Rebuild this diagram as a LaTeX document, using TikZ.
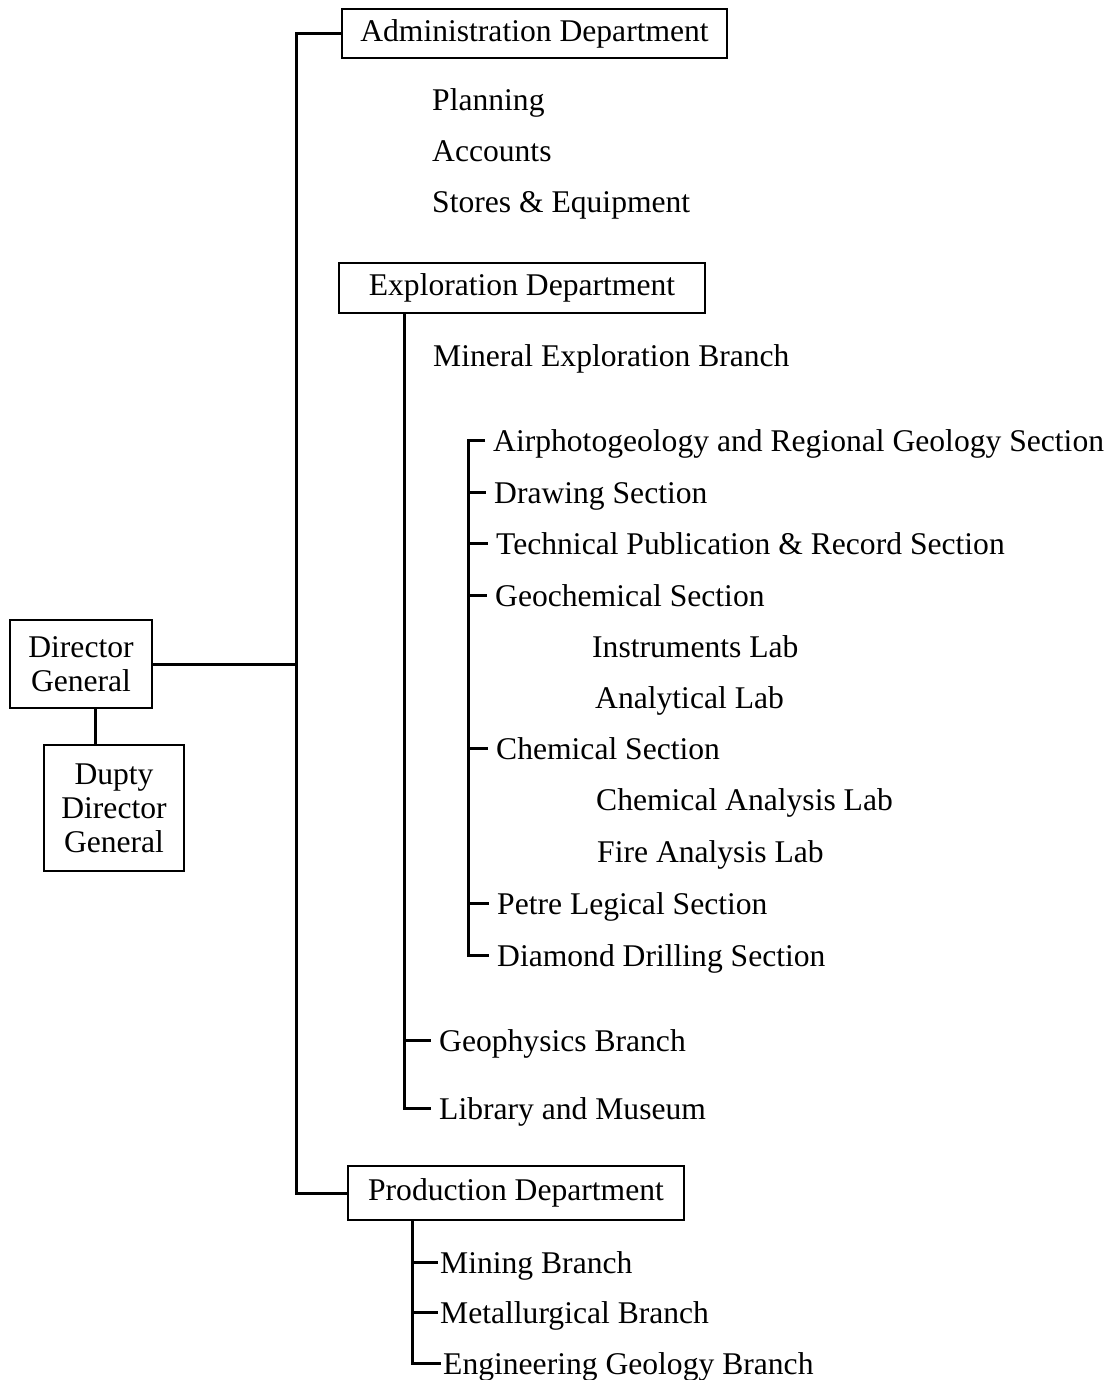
\documentclass[tikz,border=0pt]{standalone}
\usepackage{fontspec}
\setmainfont{Liberation Serif}
\begin{document}
\begin{tikzpicture}[x=1pt,y=-1pt,
  every node/.style={font=\fontsize{31.6}{34}\selectfont},
  box/.style={draw,line width=2.2pt,inner sep=0pt,align=center},
  item/.style={anchor=west,inner xsep=8pt,inner ysep=0pt,text height=22pt,text depth=0pt},
  pitem/.style={item,inner xsep=2pt},
  conn/.style={line width=3pt}]
\useasboundingbox[fill=white] (0,0) rectangle (1111,1380);

% boxes
\node[box,minimum width=142pt,minimum height=88pt] (dg) at (81,664) {Director\\General};
\node[box,minimum width=140pt,minimum height=126pt] (dupty) at (114,808) {Dupty\\Director\\General};
\node[box,minimum width=385pt,minimum height=49pt] (admin) at (534.5,33.5) {Administration Department};
\node[box,minimum width=366pt,minimum height=50pt] (expl) at (522,288) {Exploration Department};
\node[box,minimum width=336pt,minimum height=54pt] (prod) at (516,1193) {Production Department};

% administration items
\node[item] (plan) at (424,100) {Planning};
\node[item] (acc) at (424,151) {Accounts};
\node[item] (store) at (424,202) {Stores \& Equipment};

% exploration items
\node[item] (mineral) at (425,355) {Mineral Exploration Branch};
\node[item] (air) at (485,440) {Airphotogeology and Regional Geology Section};
\node[item] (draw) at (486,492) {Drawing Section};
\node[item] (tech) at (488,543) {Technical Publication \& Record Section};
\node[item] (geochem) at (487,595) {Geochemical Section};
\node[item] (instr) at (584,646) {Instruments Lab};
\node[item] (anal) at (587,697) {Analytical Lab};
\node[item] (chem) at (488,748) {Chemical Section};
\node[item] (chemlab) at (588,799) {Chemical Analysis Lab};
\node[item] (fire) at (589,851) {Fire Analysis Lab};
\node[item] (petre) at (489,903) {Petre Legical Section};
\node[item] (diam) at (489,955) {Diamond Drilling Section};
\node[item] (geoph) at (431,1040) {Geophysics Branch};
\node[item] (lib) at (431,1108) {Library and Museum};

% production items
\node[pitem] (mining) at (438,1262) {Mining Branch};
\node[pitem] (metal) at (438,1312) {Metallurgical Branch};
\node[pitem] (eng) at (441,1363) {Engineering Geology Branch};

% guide coordinates for vertical lines
\coordinate (mv) at (296,0);
\coordinate (dd) at (95,0);
\coordinate (ev) at (404,0);
\coordinate (sv) at (468,0);
\coordinate (pv) at (412,0);

% connectors
\draw[conn] (admin.west) -- (admin.west -| mv) -- (prod.west -| mv) -- (prod.west);
\draw[conn] (dg.east) -- (dg.east -| mv);
\draw[conn] (dg.south -| dd) -- (dupty.north -| dd);

\draw[conn] (expl.south -| ev) -- (lib.west -| ev) -- (lib.west);
\draw[conn] (geoph.west -| ev) -- (geoph.west);

\draw[conn] (air.west) -- (air.west -| sv) -- (diam.west -| sv) -- (diam.west);
\draw[conn] (draw.west -| sv) -- (draw.west);
\draw[conn] (tech.west -| sv) -- (tech.west);
\draw[conn] (geochem.west -| sv) -- (geochem.west);
\draw[conn] (chem.west -| sv) -- (chem.west);
\draw[conn] (petre.west -| sv) -- (petre.west);

\draw[conn] (prod.south -| pv) -- (eng.west -| pv) -- (eng.west);
\draw[conn] (mining.west -| pv) -- (mining.west);
\draw[conn] (metal.west -| pv) -- (metal.west);
\end{tikzpicture}
\end{document}
